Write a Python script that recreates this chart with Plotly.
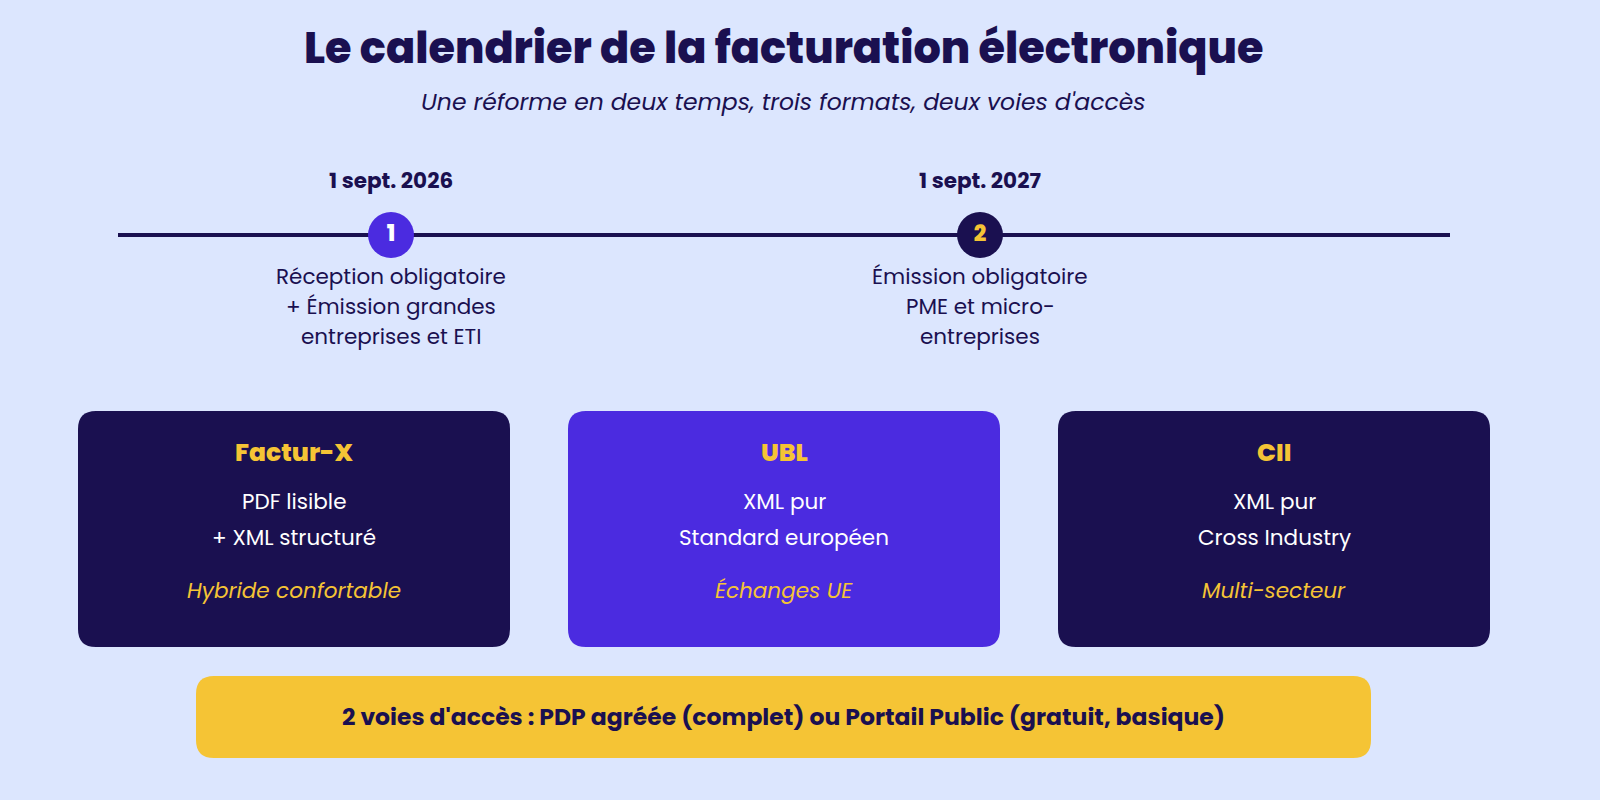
import plotly.graph_objects as go

# -------------------------------------------------
# Data
# -------------------------------------------------
title = "Le calendrier de la facturation électronique"
subtitle = "Une réforme en deux temps, trois formats, deux voies d'accès"

milestone_num = ["1", "2"]
milestone_date = ["1 sept. 2026", "1 sept. 2027"]
milestone_desc = [
    ["Réception obligatoire", "+ Émission grandes", "entreprises et ETI"],
    ["Émission obligatoire", "PME et micro-", "entreprises"],
]

format_name = ["Factur-X", "UBL", "CII"]
format_lines = [
    ["PDF lisible", "+ XML structuré"],
    ["XML pur", "Standard européen"],
    ["XML pur", "Cross Industry"],
]
format_tag = ["Hybride confortable", "Échanges UE", "Multi-secteur"]

access_text = "2 voies d'accès : PDP agréée (complet) ou Portail Public (gratuit, basique)"

# -------------------------------------------------
# Styles
# -------------------------------------------------
BG = "#DCE6FE"
NAVY = "#1A1050"
PURPLE = "#4B2BE0"
YELLOW = "#F5C435"
FONT = "Poppins, Inter, sans-serif"

milestone_x = [391, 980]
milestone_fill = [PURPLE, NAVY]
milestone_numcol = ["white", YELLOW]
card_x0 = [78, 568, 1058]
card_w = 432
card_fill = [NAVY, PURPLE, NAVY]


def rounded_rect(x0, y0, x1, y1, r):
    return (f"M {x0+r},{y0} L {x1-r},{y0} Q {x1},{y0} {x1},{y0+r} "
            f"L {x1},{y1-r} Q {x1},{y1} {x1-r},{y1} L {x0+r},{y1} "
            f"Q {x0},{y1} {x0},{y1-r} L {x0},{y0+r} Q {x0},{y0} {x0+r},{y0} Z")


fig = go.Figure()
shapes = []
ann = []


def text(x, y, s, size, color, weight=400, italic=False):
    ann.append(dict(x=x, y=y, xref="x", yref="y", text=s, showarrow=False,
                    xanchor="center", yanchor="middle",
                    font=dict(family=FONT, size=size, color=color, weight=weight,
                              style="italic" if italic else "normal")))


# title block
text(783, 48, title, 43, NAVY, 800)
text(783, 101, subtitle, 23.5, NAVY, 400, True)

# timeline
shapes.append(dict(type="line", x0=118, x1=1450, y0=235, y1=235,
                   line=dict(color=NAVY, width=4), layer="below"))
fig.add_trace(go.Scatter(
    x=milestone_x, y=[235, 235], mode="markers+text",
    marker=dict(size=46, color=milestone_fill, line=dict(width=0)),
    text=milestone_num,
    textposition="middle center",
    textfont=dict(family=FONT, size=22, color=milestone_numcol, weight=800),
    hoverinfo="skip", showlegend=False))

for i, mx in enumerate(milestone_x):
    text(mx, 180, milestone_date[i], 21.5, NAVY, 700)
    for j, line in enumerate(milestone_desc[i]):
        text(mx, 276 + 30 * j, line, 21.5, NAVY)

# format cards
for i, x0 in enumerate(card_x0):
    shapes.append(dict(type="path", path=rounded_rect(x0, 411, x0 + card_w, 647, 18),
                       fillcolor=card_fill[i], line=dict(width=0), layer="below"))
    cx = x0 + card_w / 2
    text(cx, 452, format_name[i], 25, YELLOW, 800)
    for j, line in enumerate(format_lines[i]):
        text(cx, 501 + 36 * j, line, 21.5, "white")
    text(cx, 590, format_tag[i], 21.5, YELLOW, 400, True)

# access bar
shapes.append(dict(type="path", path=rounded_rect(196, 676, 1371, 758, 18),
                   fillcolor=YELLOW, line=dict(width=0), layer="below"))
text(783, 716, access_text, 23.5, NAVY, 700)

fig.update_layout(
    width=1600, height=800,
    margin=dict(l=0, r=0, t=0, b=0),
    paper_bgcolor=BG, plot_bgcolor=BG,
    xaxis=dict(range=[0, 1600], visible=False, fixedrange=True),
    yaxis=dict(range=[800, 0], visible=False, fixedrange=True),
    shapes=shapes, annotations=ann,
)

fig.write_html("out.html", config={"displayModeBar": False},
               post_script="document.body.style.margin='0';")
